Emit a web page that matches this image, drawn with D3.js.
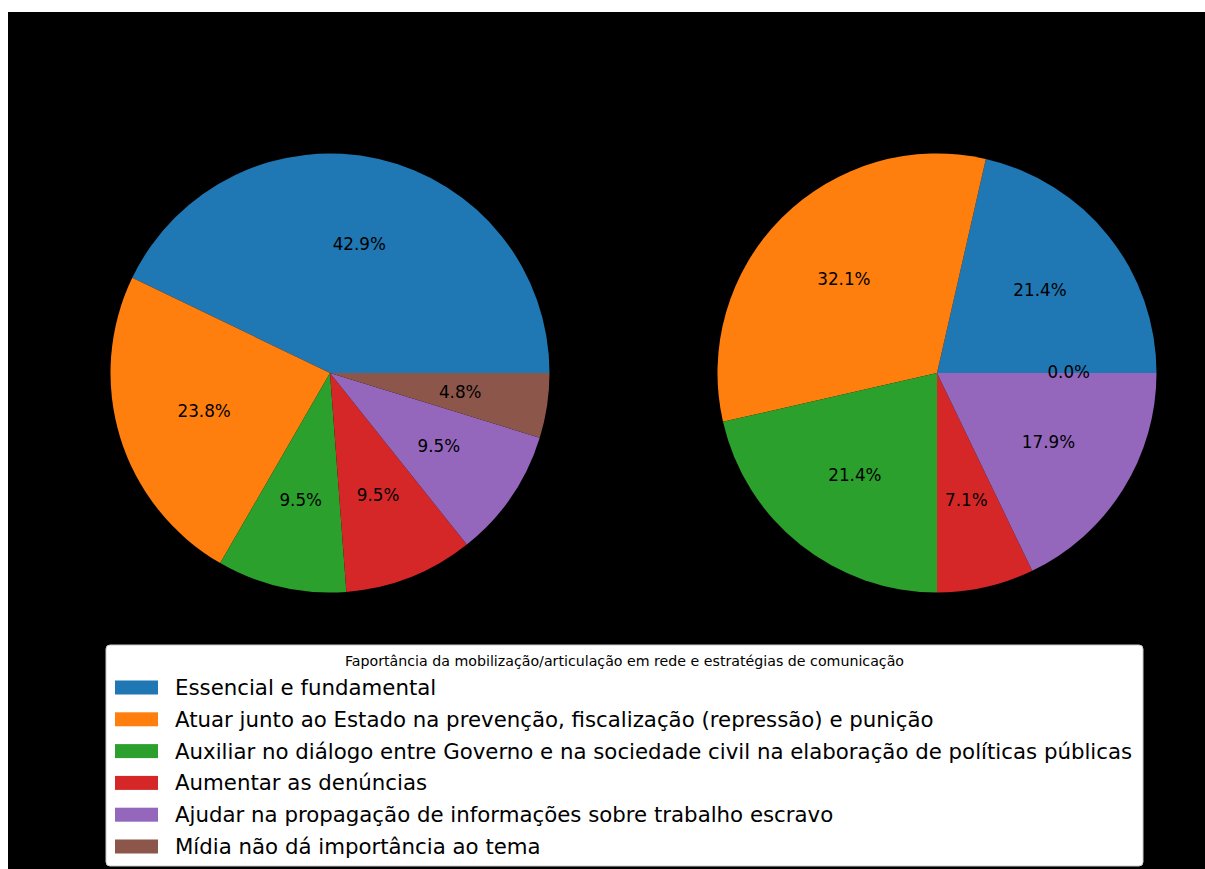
<!DOCTYPE html>
<html><head><meta charset="utf-8">
<script src="https://cdn.jsdelivr.net/npm/d3@7"></script>
<style>body{margin:0;background:#fff}svg{display:block}</style>
</head><body>
<svg id="c" width="1205" height="869"></svg>
<script>
const categories = [
  "Essencial e fundamental",
  "Atuar junto ao Estado na prevenção, fiscalização (repressão) e punição",
  "Auxiliar no diálogo entre Governo e na sociedade civil na elaboração de políticas públicas",
  "Aumentar as denúncias",
  "Ajudar na propagação de informações sobre trabalho escravo",
  "Mídia não dá importância ao tema"
];
const seriesLeft = [9, 5, 2, 2, 2, 1];
const seriesRight = [6, 9, 6, 2, 5, 0];
const colors = ["#1f77b4", "#ff7f0e", "#2ca02c", "#d62728", "#9467bd", "#8c564b"];
const legendTitle = "Faportância da mobilização/articulação em rede e estratégias de comunicação";

const svg = d3.select("#c");
svg.append("rect").attr("x", 8).attr("y", 12).attr("width", 1197).attr("height", 857).attr("fill", "#000");

const color = d3.scaleOrdinal().domain(categories).range(colors);
const R = 219.5;
const arc = d3.arc().innerRadius(0).outerRadius(R);
const labelArc = d3.arc().innerRadius(R * 0.6).outerRadius(R * 0.6);
const pieFn = d3.pie().sort(null).value(d => d.v).startAngle(Math.PI / 2).endAngle(Math.PI / 2 - 2 * Math.PI);

function drawPie(values, cx, cy) {
  const total = d3.sum(values);
  const arcs = pieFn(values.map((v, i) => ({v, c: categories[i]})));
  const g = svg.append("g").attr("transform", `translate(${cx},${cy})`);
  g.selectAll("path").data(arcs).join("path")
    .attr("d", arc).attr("fill", d => color(d.data.c));
  g.selectAll("text").data(arcs).join("text")
    .attr("transform", d => { const [x, y] = labelArc.centroid(d); return `translate(${x},${y - 1})`; })
    .attr("text-anchor", "middle").attr("dominant-baseline", "central")
    .attr("font-family", "DejaVu Sans").attr("font-size", 16.8).attr("fill", "#000")
    .text(d => (100 * d.data.v / total).toFixed(1) + "%");
}
drawPie(seriesLeft, 330, 373);
drawPie(seriesRight, 937, 373);

// legend
const lg = svg.append("g");
lg.append("rect").attr("x", 106).attr("y", 645).attr("width", 1037).attr("height", 221)
  .attr("rx", 4).attr("fill", "#fff").attr("stroke", "#ccc").attr("stroke-width", 1);
lg.append("text").attr("x", 624.5).attr("y", 661).attr("text-anchor", "middle").attr("dominant-baseline", "central")
  .attr("font-family", "DejaVu Sans").attr("font-size", 14.2).attr("fill", "#000").text(legendTitle);
const rowY = d3.scaleLinear().domain([0, 5]).range([687.5, 846.5]);
const items = lg.selectAll("g.item").data(categories).join("g").attr("class", "item")
  .attr("transform", (d, i) => `translate(0,${rowY(i)})`);
items.append("rect").attr("x", 115).attr("y", -7).attr("width", 43).attr("height", 14).attr("fill", d => color(d));
items.append("text").attr("x", 175).attr("y", 0).attr("dominant-baseline", "central")
  .attr("font-family", "DejaVu Sans").attr("font-size", 21.3).attr("fill", "#000").text(d => d);
</script>
</body></html>
